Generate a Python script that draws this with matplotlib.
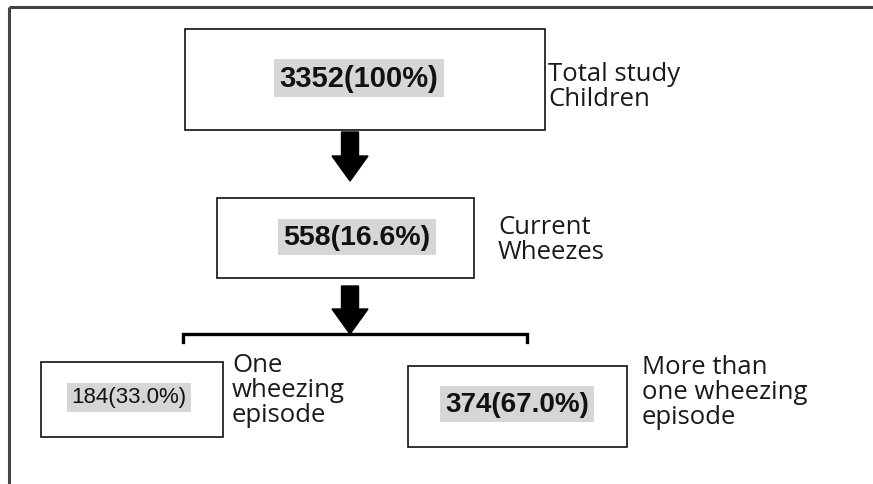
import matplotlib.pyplot as plt
from matplotlib.patches import Rectangle, FancyArrow

# Données du diagramme
counts = [3352, 558, 184, 374]
percents = ['100%', '16.6%', '33.0%', '67.0%']
descriptions = ['Total study\nChildren', 'Current\nWheezes',
                'One\nwheezing\nepisode', 'More than\none wheezing\nepisode']

# Mise en page (pixels, axe y inversé)
boxes = [(185, 30, 360, 101), (217, 199, 257, 80), (41, 363, 182, 75), (408, 367, 219, 81)]
value_pos = [(359, 79), (357, 238), (129, 398), (517, 405)]
value_size = [21, 20.5, 16, 20]
value_weight = ['bold', 'bold', 'normal', 'bold']
desc_pos = [(548, 87), (498, 240), (232, 391), (642, 393)]

fig = plt.figure(figsize=(8.73, 4.85), dpi=100)
ax = fig.add_axes([0, 0, 1, 1])
ax.set_xlim(0, 873)
ax.set_ylim(485, 0)
ax.axis('off')

# Cadre (haut et gauche seulement)
ax.plot([9, 873], [8, 8], color='#444444', lw=2.2, solid_capstyle='butt')
ax.plot([9, 9], [8, 485], color='#444444', lw=2.2, solid_capstyle='butt')

for i in range(len(counts)):
    x, y, w, h = boxes[i]
    ax.add_patch(Rectangle((x, y), w, h, fill=False, edgecolor='#111111', lw=1.2))
    ax.text(value_pos[i][0], value_pos[i][1], '%d(%s)' % (counts[i], percents[i]),
            ha='center', va='center', fontsize=value_size[i], fontweight=value_weight[i],
            family='Liberation Sans', color='#111111',
            bbox=dict(boxstyle='square,pad=0.18', facecolor='#d6d6d6', edgecolor='none'))
    ax.text(desc_pos[i][0], desc_pos[i][1], descriptions[i], ha='left', va='center',
            fontsize=18.5, family='Open Sans', color='#1a1a1a', linespacing=1.0)

# Flèches
for y0, y1 in [(133, 182), (287, 335)]:
    ax.add_patch(FancyArrow(350, y0, 0, y1 - y0, width=17, head_width=36, head_length=25,
                            length_includes_head=True, color='black'))

# Accolade vers les deux sous-groupes
ax.plot([183, 183, 527, 527], [343, 335, 335, 343], color='black', lw=2.4, solid_joinstyle='miter')

plt.savefig('out.png', dpi=100)
